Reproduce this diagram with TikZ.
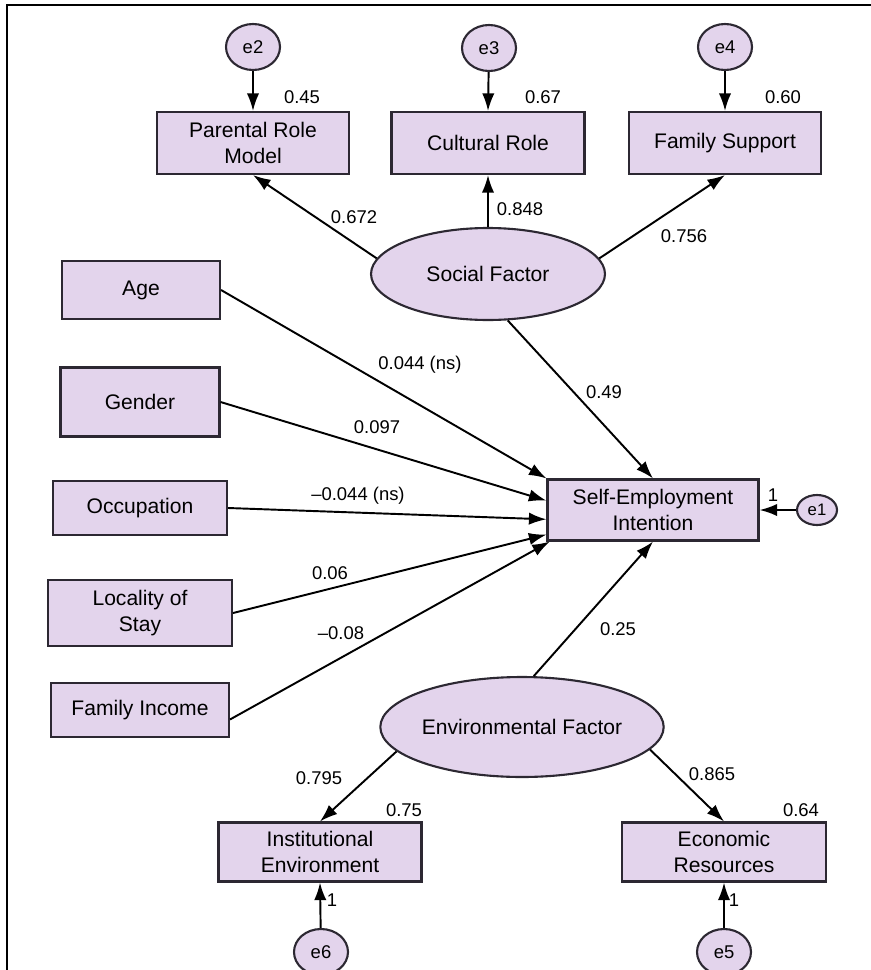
\documentclass[tikz,border=0pt]{standalone}
\usepackage{fontspec}
\setmainfont{Liberation Sans}
\usetikzlibrary{arrows.meta,shapes.geometric}
\definecolor{lavender}{RGB}{227,212,236}
\definecolor{rim}{RGB}{44,40,50}

\tikzset{
  obs/.style={draw=rim, line width=1.2pt, fill=lavender, align=center, inner sep=0pt,
    font=\fontsize{12}{14.5}\selectfont},
  lat/.style={ellipse, draw=rim, line width=1.2pt, fill=lavender, inner sep=0pt,
    font=\fontsize{12}{14.5}\selectfont},
  err/.style={ellipse, draw=rim, line width=1.2pt, fill=lavender, inner sep=0pt,
    minimum width=1.08cm, minimum height=0.92cm, font=\fontsize{10.5}{12}\selectfont},
  arr/.style={-{Latex[length=10pt,width=7pt]}, line width=1.1pt},
  coef/.style={inner sep=0pt, font=\fontsize{10.5}{12}\selectfont}
}

\begin{document}
\begin{tikzpicture}[x=0.02cm, y=-0.02cm]
\useasboundingbox (0,0) rectangle (870,970);
\draw[line width=1.6pt] (7,975) |- (872,5);

% indicators of the social factor
\node[obs, minimum width=3.84cm, minimum height=1.24cm] (prm) at (253,143) {Parental Role\\Model};
\node[obs, minimum width=3.86cm, minimum height=1.24cm] (cr) at (488,143) {Cultural Role};
\node[obs, minimum width=3.84cm, minimum height=1.24cm] (fs) at (725,143) {Family Support};
\node[err] (e2) at (253,47) {e2};
\node[err] (e3) at (489,48) {e3};
\node[err] (e4) at (725,47) {e4};
\node[lat, minimum width=4.68cm, minimum height=1.84cm] (sf) at (488,274) {Social Factor};

% control variables
\node[obs, minimum width=3.16cm, minimum height=1.16cm] (age) at (141,290) {Age};
\node[obs, minimum width=3.18cm, minimum height=1.38cm] (gen) at (140,402) {Gender};
\node[obs, minimum width=3.48cm, minimum height=1.08cm] (occ) at (140,508) {Occupation};
\node[obs, minimum width=3.68cm, minimum height=1.32cm] (loc) at (140,613) {Locality of\\Stay};
\node[obs, minimum width=3.56cm, minimum height=1.08cm] (inc) at (140,710) {Family Income};

% outcome
\node[obs, minimum width=4.22cm, minimum height=1.22cm] (sei) at (653,510) {Self-Employment\\Intention};
\node[err, minimum width=0.8cm, minimum height=0.6cm, font=\fontsize{9.5}{11}\selectfont] (e1) at (817,510) {e1};

% environmental factor
\node[lat, minimum width=5.36cm, minimum height=2cm] (ef) at (522,727) {Environmental Factor};
\node[obs, minimum width=4.06cm, minimum height=1.18cm] (inst) at (320,852) {Institutional\\Environment};
\node[obs, minimum width=4.08cm, minimum height=1.18cm] (eco) at (724,852) {Economic\\Resources};
\node[err] (e6) at (321,952) {e6};
\node[err] (e5) at (724,952) {e5};

% paths
\draw[arr] (e2) -- (prm.north);
\draw[arr] (e3) -- (cr.north);
\draw[arr] (e4) -- (fs.north);
\draw[arr] (sf.172) -- (prm.south);
\draw[arr] (sf.north) -- (cr.south);
\draw[arr] (sf.8) -- (fs.south);
\draw[arr] (sf.293) -- (sei.north);
\draw[arr] (age.east) -- (sei.north west);
\draw[arr] (gen.east) -- (sei.175.6);
\draw[arr] (occ.east) -- (sei.185.4);
\draw[arr] (loc.east) -- (sei.193.4);
\draw[arr] (inc.-6) -- (sei.197.3);
\draw[arr] (e1) -- (sei.east);
\draw[arr] (ef.77) -- (sei.south);
\draw[arr] (ef.191) -- (inst.north);
\draw[arr] (ef.-10) -- (eco.north);
\draw[arr] (e6) -- (inst.south);
\draw[arr] (e5) -- (eco.south);

% estimates
\node[coef] (r2) at (302,97) {0.45};
\node[coef] (r3) at (543,97) {0.67};
\node[coef] (r4) at (783,97) {0.60};
\node[coef] (l1) at (354,217) {0.672};
\node[coef] (l2) at (520,209) {0.848};
\node[coef] (l3) at (684,236) {0.756};
\node[coef] (b1) at (420,365) {0.044 (ns)};
\node[coef] (b2) at (604,392) {0.49};
\node[coef] (b3) at (377,427) {0.097};
\node[coef] (b4) at (358,496) {\textendash0.044 (ns)};
\node[coef] (b5) at (330,573) {0.06};
\node[coef] (b6) at (341,633) {\textendash0.08};
\node[coef] (b7) at (618,629) {0.25};
\node[coef] (l4) at (319,778) {0.795};
\node[coef] (l5) at (712,774) {0.865};
\node[coef] (r6) at (404,810) {0.75};
\node[coef] (r5) at (801,810) {0.64};
\node[coef] (f1) at (773,495) {1};
\node[coef] (f6) at (332,900) {1};
\node[coef] (f5) at (734,900) {1};
\end{tikzpicture}
\end{document}
